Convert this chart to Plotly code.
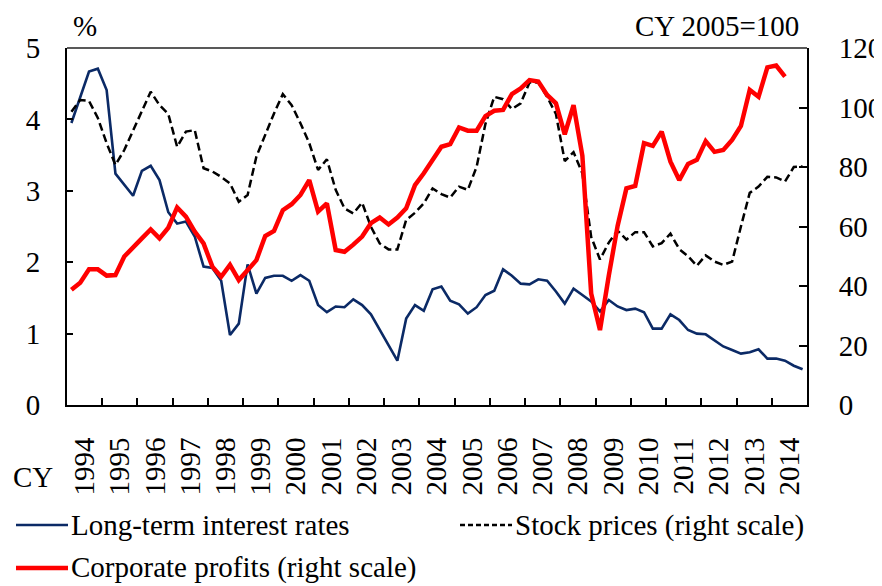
import plotly.graph_objects as go

years = list(range(1994, 2015))
quarters = [f"{y}Q{q}" for y in years for q in range(1, 5)]

long_term_rates = [
    3.95, 4.30, 4.67, 4.71, 4.41, 3.24, 3.09, 2.93, 3.28, 3.35, 3.15, 2.70,
    2.54, 2.57, 2.36, 1.94, 1.92, 1.74, 0.98, 1.14, 1.97, 1.56, 1.78, 1.81,
    1.81, 1.74, 1.82, 1.74, 1.40, 1.30, 1.38, 1.37, 1.48, 1.40, 1.27, 1.05,
    0.83, 0.62, 1.21, 1.40, 1.32, 1.62, 1.66, 1.46, 1.41, 1.28, 1.37, 1.54,
    1.60, 1.90, 1.81, 1.70, 1.69, 1.76, 1.74, 1.59, 1.42, 1.63, 1.54, 1.45,
    1.31, 1.47, 1.38, 1.33, 1.35, 1.30, 1.07, 1.07, 1.27, 1.19, 1.05, 1.00,
    0.99, 0.91, 0.82, 0.77, 0.72, 0.74, 0.78, 0.65, 0.65, 0.62, 0.55, 0.50,
]

stock_prices = [
    98.6, 102.5, 102.2, 96.5, 88.0, 80.7, 85.7, 92.4, 99.2, 105.3, 100.8, 97.8,
    86.8, 91.9, 92.4, 79.6, 78.5, 76.7, 74.5, 68.3, 70.6, 83.5, 90.8, 98.0,
    104.5, 100.8, 94.7, 88.0, 79.0, 82.6, 72.3, 66.1, 64.4, 68.0, 59.9, 54.3,
    52.3, 52.3, 62.2, 64.6, 67.8, 72.8, 70.9, 69.7, 73.4, 72.3, 80.1, 94.5,
    103.6, 102.8, 99.5, 101.4, 108.4, 108.4, 103.6, 97.8, 82.0, 85.0, 77.9, 56.5,
    48.9, 54.6, 58.6, 55.6, 58.1, 58.1, 53.3, 54.4, 57.6, 52.4, 50.0, 46.8,
    50.3, 48.2, 47.1, 48.2, 60.0, 71.3, 73.4, 76.7, 76.5, 75.1, 80.0, 80.2,
]

corporate_profits = [
    38.7, 41.1, 45.6, 45.6, 43.5, 43.7, 49.9, 52.7, 56.0, 59.0, 56.0, 59.6,
    66.4, 63.3, 58.3, 54.3, 46.5, 43.1, 47.1, 42.0, 45.6, 48.7, 56.8, 58.5,
    65.5, 67.5, 70.6, 75.6, 65.0, 67.8, 52.1, 51.5, 53.9, 56.6, 61.1, 63.0,
    60.7, 63.0, 66.1, 73.9, 77.9, 82.6, 86.8, 87.7, 93.3, 92.2, 92.2, 97.1,
    98.9, 99.2, 104.5, 106.4, 109.2, 108.7, 104.2, 101.4, 91.0, 100.8, 83.8, 37.5,
    25.2, 43.5, 60.2, 72.8, 73.6, 88.0, 87.1, 91.9, 81.8, 75.6, 81.0, 82.4,
    88.7, 85.1, 85.7, 89.1, 93.8, 105.9, 103.6, 113.5, 114.1, 110.4,
]


def qpos(label):
    y, q = label.split("Q")
    return int(y) + (int(q) - 0.5) / 4


x_all = [qpos(q) for q in quarters]

FONT = "Liberation Serif"
FS = 29
BLUE = "#0b2a66"
RED = "#ff0000"

fig = go.Figure()
fig.add_trace(go.Scatter(x=x_all[:len(long_term_rates)], y=long_term_rates,
                         mode="lines", line=dict(color=BLUE, width=2.6),
                         name="Long-term interest rates", yaxis="y"))
fig.add_trace(go.Scatter(x=x_all[:len(stock_prices)], y=stock_prices,
                         mode="lines", line=dict(color="black", width=2.5, dash="8px,4px"),
                         name="Stock prices (right scale)", yaxis="y2"))
fig.add_trace(go.Scatter(x=x_all[:len(corporate_profits)], y=corporate_profits,
                         mode="lines", line=dict(color=RED, width=4.5),
                         name="Corporate profits (right scale)", yaxis="y2"))

# page body has an 8px margin; compensate so the plot lands where the reference has it
OFF = 8
PL, PT, PW, PH = 67, 48, 740, 357  # plot area in screen pixels
W, H = 882 - OFF, 586 - OFF
L, T = PL - OFF, PT - OFF
R = W - L - PW
B = H - T - PH


def px(xs):
    return (xs - PL) / PW


def py(ys):
    return (PT + PH - ys) / PH


tickfont = dict(family=FONT, size=FS, color="black")

fig.update_layout(
    width=W, height=H,
    margin=dict(l=L, r=R, t=T, b=B, autoexpand=False),
    paper_bgcolor="white", plot_bgcolor="white",
    showlegend=False,
    font=dict(family=FONT, size=FS, color="black"),
    xaxis=dict(
        range=[1994, 2015],
        tickmode="array",
        tickvals=[y + 0.5 for y in years],
        ticktext=[str(y) for y in years],
        tickangle=-90,
        ticks="",
        tickfont=tickfont,
        ticklabelstandoff=19,
        showline=True, linecolor="black", linewidth=2,
        showgrid=False, zeroline=False,
        minor=dict(tickmode="array", tickvals=list(range(1995, 2015)),
                   ticks="inside", ticklen=7, tickwidth=1.5, tickcolor="black",
                   showgrid=False),
    ),
    yaxis=dict(
        range=[0, 5], tickvals=[0, 1, 2, 3, 4, 5],
        ticks="inside", ticklen=6, tickwidth=1.5, tickcolor="black",
        tickfont=tickfont, ticklabelstandoff=19,
        showline=True, linecolor="black", linewidth=2,
        showgrid=False, zeroline=False,
    ),
    yaxis2=dict(
        range=[0, 120], tickvals=[0, 20, 40, 60, 80, 100, 120],
        overlaying="y", side="right",
        ticks="inside", ticklen=8, tickwidth=1.5, tickcolor="black",
        tickfont=tickfont, ticklabelstandoff=24,
        showline=True, linecolor="black", linewidth=2,
        showgrid=False, zeroline=False,
    ),
)

shapes = [
    dict(type="line", xref="paper", yref="paper", x0=0, x1=1, y0=1, y1=1,
         line=dict(color="#595959", width=2)),
    dict(type="line", xref="paper", yref="paper", x0=px(16), x1=px(68),
         y0=py(525), y1=py(525), line=dict(color=BLUE, width=2.6)),
    dict(type="line", xref="paper", yref="paper", x0=px(460), x1=px(512),
         y0=py(525), y1=py(525), line=dict(color="black", width=2.5, dash="5px,3px")),
    dict(type="line", xref="paper", yref="paper", x0=px(16), x1=px(68),
         y0=py(568), y1=py(568), line=dict(color=RED, width=4.5)),
]

annotations = [
    dict(text="%", x=px(71), y=py(26), xanchor="left", yanchor="middle"),
    dict(text="CY 2005=100", x=px(801), y=py(26), xanchor="right", yanchor="middle"),
    dict(text="CY", x=px(11), y=py(477), xanchor="left", yanchor="middle"),
    dict(text="Long-term interest rates", x=px(69), y=py(525), xanchor="left", yanchor="middle"),
    dict(text="Stock prices (right scale)", x=px(513), y=py(525), xanchor="left", yanchor="middle"),
    dict(text="Corporate profits (right scale)", x=px(69), y=py(567), xanchor="left", yanchor="middle"),
]
for a in annotations:
    a.update(xref="paper", yref="paper", showarrow=False,
             font=dict(family=FONT, size=FS, color="black"))

fig.update_layout(shapes=shapes, annotations=annotations)

fig.write_html("out.html")
